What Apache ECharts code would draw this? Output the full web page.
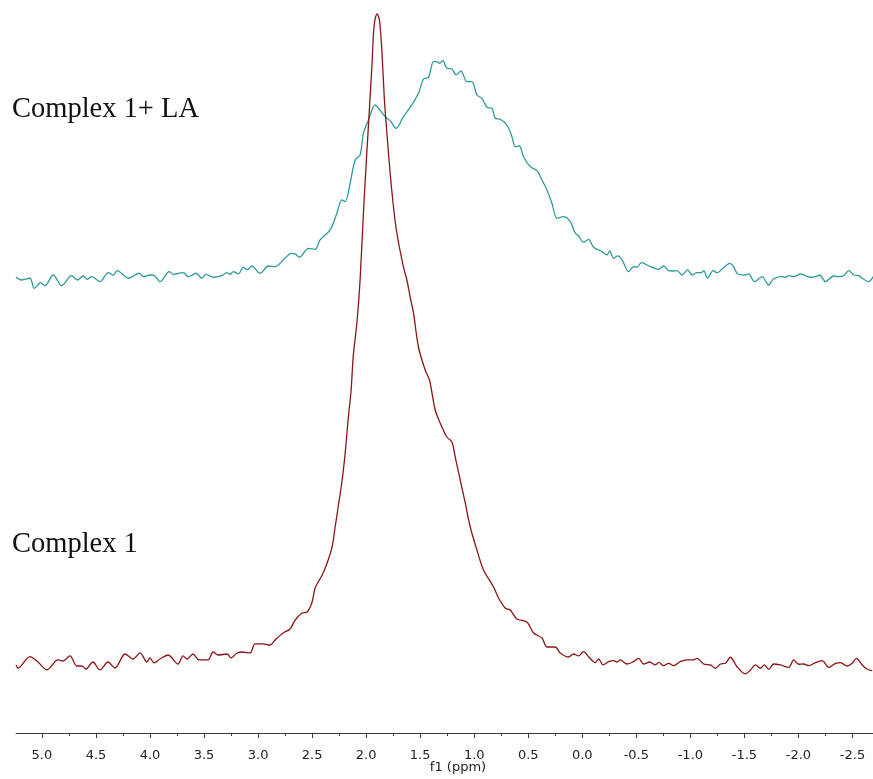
<!DOCTYPE html>
<html>
<head>
<meta charset="utf-8">
<script src="https://cdn.jsdelivr.net/npm/echarts@6/dist/echarts.min.js"></script>
<style>
html,body{margin:0;padding:0;background:#fff;}
#chart{width:873px;height:779px;}
</style>
</head>
<body>
<div id="chart"></div>
<script>
// ppm, intensity (a.u., Complex 1 peak = 100)
const complex1 = [[5.240,-0.46],[5.222,-0.93],[5.111,0.82],[5.037,0],[4.954,-1.23],[4.852,0.31],[4.806,0.15],[4.741,0.93],[4.676,-0.62],[4.630,-0.62],[4.593,-1.08],[4.528,0],[4.463,-1.23],[4.389,0],[4.324,-0.93],[4.231,1.23],[4.157,0.46],[4.093,1.39],[4.028,0],[4.000,0.62],[3.963,-0.15],[3.907,0.46],[3.833,1.08],[3.741,-0.31],[3.694,0.93],[3.657,0.46],[3.602,1.23],[3.546,0.31],[3.463,0.31],[3.417,1.54],[3.370,1.08],[3.287,1.23],[3.250,0.62],[3.194,1.39],[3.148,1.54],[3.074,1.39],[3.028,2.78],[2.954,2.78],[2.889,2.62],[2.843,3.40],[2.769,4.48],[2.704,5.09],[2.657,6.48],[2.593,7.56],[2.546,7.72],[2.500,9.26],[2.472,11.42],[2.407,13.43],[2.361,15.28],[2.315,17.75],[2.287,20.83],[2.259,23.92],[2.222,28.09],[2.194,32.25],[2.167,37.35],[2.139,41.98],[2.120,47.07],[2.083,52.78],[2.056,58.95],[2.019,71.30],[1.972,84.72],[1.947,91.87],[1.932,97.02],[1.919,99.07],[1.898,100.0],[1.877,99.07],[1.855,94.44],[1.831,86.73],[1.808,81.64],[1.778,75.46],[1.747,70.22],[1.716,66.20],[1.655,60.96],[1.623,58.95],[1.593,56.33],[1.562,53.86],[1.516,48.61],[1.454,45.06],[1.414,43.52],[1.361,38.89],[1.315,36.88],[1.253,34.72],[1.206,33.95],[1.176,31.64],[1.130,28.09],[1.083,24.54],[1.037,20.83],[0.975,17.28],[0.914,14.20],[0.821,11.57],[0.775,9.88],[0.713,8.33],[0.667,8.02],[0.605,6.64],[0.512,6.17],[0.451,4.48],[0.373,3.70],[0.327,2.31],[0.250,2.31],[0.204,1.39],[0.127,0.77],[0.081,1.23],[0.034,0.93],[-0.012,1.59],[-0.058,0.82],[-0.120,-0.11],[-0.151,0.46],[-0.192,-0.46],[-0.244,0.05],[-0.290,0.20],[-0.321,0],[-0.352,0.31],[-0.414,-0.31],[-0.469,0],[-0.521,0.57],[-0.568,-0.31],[-0.623,0],[-0.676,-0.46],[-0.707,-0.05],[-0.753,-0.57],[-0.799,-0.20],[-0.845,-0.57],[-0.907,0.05],[-0.969,0.31],[-1.031,0.31],[-1.062,0.57],[-1.123,-0.31],[-1.185,-0.46],[-1.231,-0.97],[-1.278,-0.31],[-1.324,-0.20],[-1.370,0.73],[-1.432,-0.73],[-1.509,-1.85],[-1.556,-1.23],[-1.602,-0.46],[-1.648,-0.97],[-1.685,-0.46],[-1.725,-1.13],[-1.771,-0.31],[-1.833,-0.46],[-1.910,-0.82],[-1.956,0.31],[-2.003,-0.35],[-2.049,-0.31],[-2.095,-0.57],[-2.157,-0.11],[-2.219,0.20],[-2.281,-0.82],[-2.343,-0.20],[-2.389,-0.11],[-2.451,-0.62],[-2.497,-0.20],[-2.537,0.57],[-2.590,-0.46],[-2.636,-1.13],[-2.682,-1.34]];

// ppm, intensity relative to its own baseline (same a.u.)
const complex1LA = [[5.240,-0.20],[5.188,-0.62],[5.111,-0.35],[5.071,-1.90],[5.012,-1.03],[4.972,-1.50],[4.895,0.15],[4.818,-1.50],[4.725,0.05],[4.673,-0.62],[4.618,0],[4.581,-0.51],[4.540,-0.11],[4.463,-0.88],[4.386,0.51],[4.340,0.15],[4.303,0.82],[4.201,-0.35],[4.099,0.42],[4.062,-0.11],[4.000,0.15],[3.954,0],[3.907,-0.88],[3.821,0.66],[3.784,0.26],[3.692,0.51],[3.645,-0.11],[3.574,0.42],[3.521,-0.35],[3.481,0.26],[3.414,-0.20],[3.336,0.05],[3.290,0.51],[3.259,0.26],[3.229,0.66],[3.182,0.31],[3.136,1.34],[3.099,0.93],[3.058,1.54],[2.981,0.42],[2.905,1.54],[2.843,1.44],[2.766,2.47],[2.694,3.50],[2.657,3.40],[2.618,2.89],[2.534,4.27],[2.472,4.12],[2.426,5.56],[2.333,7.10],[2.271,9.68],[2.225,11.73],[2.194,11.47],[2.148,14.31],[2.102,17.90],[2.056,18.67],[2.025,22.02],[1.979,24.07],[1.917,26.39],[1.886,25.88],[1.824,24.58],[1.778,23.97],[1.722,22.79],[1.655,24.58],[1.577,26.39],[1.516,28.19],[1.469,30.40],[1.423,30.66],[1.377,33.07],[1.345,33.07],[1.321,32.82],[1.290,33.23],[1.253,32.05],[1.206,31.94],[1.167,31.02],[1.123,31.64],[1.068,29.98],[1.021,29.98],[0.975,27.93],[0.929,27.42],[0.882,26.03],[0.836,25.88],[0.806,24.34],[0.759,24.18],[0.697,23.30],[0.651,21.50],[0.620,19.95],[0.581,20.06],[0.544,18.41],[0.481,16.87],[0.419,16.25],[0.373,14.81],[0.327,13.27],[0.281,11.22],[0.234,8.90],[0.173,9.15],[0.111,8.38],[0.065,6.59],[0.034,6.17],[-0.012,5.20],[-0.058,5.66],[-0.105,4.43],[-0.182,3.75],[-0.229,3.24],[-0.253,3.86],[-0.290,2.73],[-0.327,3.09],[-0.368,2.47],[-0.429,0.66],[-0.475,1.44],[-0.506,1.34],[-0.546,2.05],[-0.630,1.44],[-0.707,1.03],[-0.753,1.54],[-0.799,0.82],[-0.831,0.77],[-0.877,0.82],[-0.923,0.15],[-0.975,0.93],[-1.016,0.15],[-1.062,0.51],[-1.099,0.51],[-1.123,0.82],[-1.160,-0.35],[-1.210,0.82],[-1.247,0.51],[-1.308,1.28],[-1.364,1.96],[-1.401,1.44],[-1.438,0.31],[-1.509,0.15],[-1.540,0.31],[-1.593,-0.88],[-1.664,-0.11],[-1.725,-1.39],[-1.766,-0.51],[-1.833,-0.11],[-1.880,-0.20],[-1.910,0.05],[-1.956,-0.11],[-2.019,0.31],[-2.111,-0.20],[-2.157,-0.11],[-2.197,0.15],[-2.250,-0.88],[-2.327,0],[-2.373,-0.11],[-2.419,0.05],[-2.466,0.82],[-2.512,0.15],[-2.558,0.05],[-2.605,-0.51],[-2.651,-0.88],[-2.692,-0.11]];
const complex1LAOffset = 59.57;

const majorTicks = [5.0, 4.5, 4.0, 3.5, 3.0, 2.5, 2.0, 1.5, 1.0, 0.5, 0.0, -0.5, -1.0, -1.5, -2.0, -2.5];
const minorTicks = [4.75, 4.25, 3.75, 3.25, 2.75, 2.25, 1.75, 1.25, 0.75, 0.25, -0.25, -0.75, -1.25, -1.75, -2.25];
const seriesNames = ['Complex 1', 'Complex 1+ LA'];
const xAxisTitle = 'f1 (ppm)';

const X_MIN = -2.69, X_MAX = 5.24;
const axisColor = '#3a3a3a';

const chart = echarts.init(document.getElementById('chart'), null, {renderer: 'canvas'});
chart.setOption({
  animation: false,
  backgroundColor: '#ffffff',
  grid: {left: 16, right: 0, top: 0, bottom: 46, containLabel: false, outerBoundsMode: 'none'},
  xAxis: [{
    type: 'value', min: X_MIN, max: X_MAX, inverse: true, position: 'bottom',
    axisLine: {show: true, onZero: false, lineStyle: {color: axisColor, width: 1}},
    axisTick: {show: true, customValues: majorTicks, length: 5, lineStyle: {color: axisColor, width: 1}},
    axisLabel: {show: true, customValues: majorTicks, formatter: v => Number(v).toFixed(1),
      fontFamily: 'DejaVu Sans', fontSize: 13, color: '#222', margin: 16},
    splitLine: {show: false}
  }, {
    type: 'value', min: X_MIN, max: X_MAX, inverse: true, position: 'bottom',
    axisLine: {show: false, onZero: false},
    axisTick: {show: true, customValues: minorTicks, length: 3, lineStyle: {color: axisColor, width: 1}},
    axisLabel: {show: false},
    splitLine: {show: false}
  }],
  yAxis: {type: 'value', min: -10.96, max: 102.16, show: false, splitLine: {show: false}},
  graphic: [
    {type: 'text', x: 12, y: 110, style: {text: seriesNames[1], font: '28.5px "Liberation Serif"', fill: '#111', verticalAlign: 'middle'}},
    {type: 'text', x: 12, y: 545, style: {text: seriesNames[0], font: '28.5px "Liberation Serif"', fill: '#111', verticalAlign: 'middle'}},
    {type: 'text', x: 458, y: 768, style: {text: xAxisTitle, font: '13px "DejaVu Sans"', fill: '#222', align: 'center', verticalAlign: 'middle'}}
  ],
  series: [{
    name: seriesNames[1], type: 'line', xAxisIndex: 0, showSymbol: false, smooth: 0.3,
    lineStyle: {color: '#2e9a9a', width: 1.3},
    data: complex1LA.map(d => [d[0], d[1] + complex1LAOffset])
  }, {
    name: seriesNames[0], type: 'line', xAxisIndex: 0, showSymbol: false, smooth: 0.3,
    lineStyle: {color: '#8b1414', width: 1.3},
    data: complex1
  }]
});
</script>
</body>
</html>
